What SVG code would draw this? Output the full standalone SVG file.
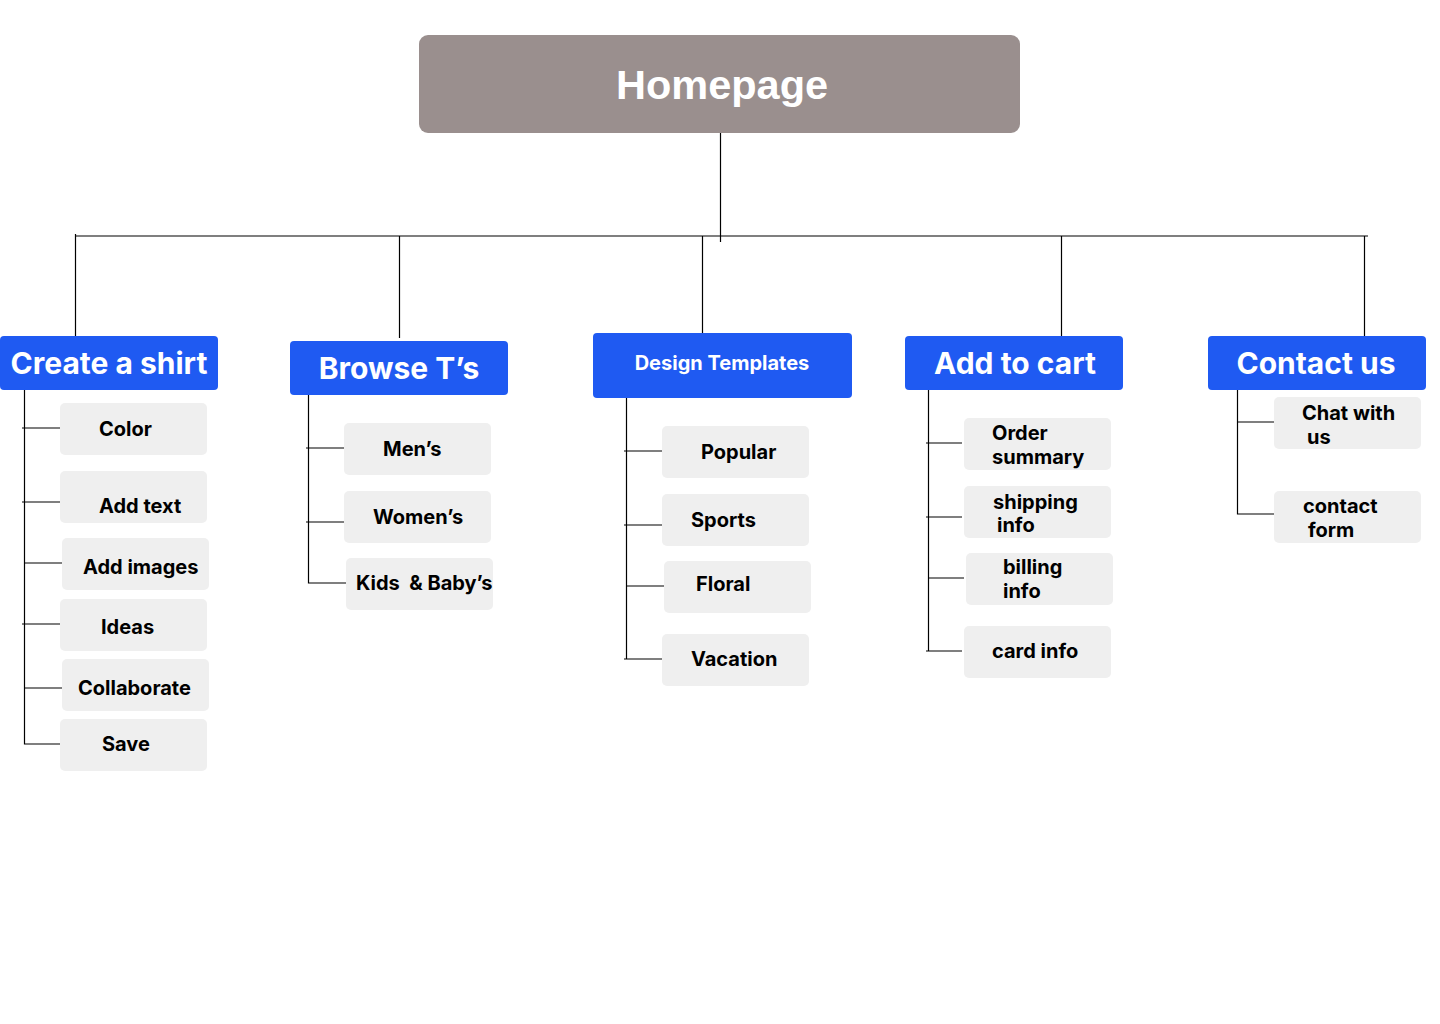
<svg xmlns="http://www.w3.org/2000/svg" width="1440" height="1024" viewBox="0 0 1440 1024">
<style>
.bg{fill:#ffffff}
.root{fill:#9a8f8e}
.cat{fill:#1f5af2}
.item{fill:#efefef}
.rt{font-family:"Liberation Sans",Arial,sans-serif;font-weight:700;font-size:41.5px;fill:#ffffff}
.ct{font-family:Inter,"Liberation Sans",sans-serif;font-weight:700;font-size:30px;fill:#ffffff}
.ct2{font-family:Inter,"Liberation Sans",sans-serif;font-weight:700;font-size:20px;fill:#ffffff}
.it{font-family:Inter,"Liberation Sans",sans-serif;font-weight:700;font-size:20px;fill:#000000}
.ln{stroke:#000000;stroke-width:1.2;fill:none}
</style>
<rect class="bg" x="0" y="0" width="1440" height="1024"/>
<g id="connectors">
<path class="ln" d="M720.5 133V242"/>
<path class="ln" d="M75 236H1368"/>
<path class="ln" d="M75.5 234V336M399.5 236V338M702.5 236V333M1061.5 236V337M1364.5 236V337"/>
<path class="ln" d="M24.5 390V744H60M22 428H60M22 502H60M24 563H62M22 624H60M24 688H62"/>
<path class="ln" d="M308.5 395V583H346M306 448H344M306 522H344"/>
<path class="ln" d="M626.5 398V659H662M624 451H662M624 525H662M626 586H664M624 659H626"/>
<path class="ln" d="M928.5 390V651H962M926 443H962M926 517H962M928 578H964M926 651H928"/>
<path class="ln" d="M1237.5 384V514H1274M1237 422H1274"/>
</g>
<g id="homepage"><rect class="root" x="419" y="35" width="601" height="98" rx="9"/><text class="rt" x="722" y="99" text-anchor="middle">Homepage</text></g>
<g id="create-shirt"><rect class="cat" x="0" y="336" width="218" height="54" rx="4"/><text class="ct" x="109" y="374" text-anchor="middle">Create a shirt</text></g>
<g id="browse"><rect class="cat" x="290" y="341" width="218" height="54" rx="4"/><text class="ct" x="399" y="379" text-anchor="middle">Browse T’s</text></g>
<g id="design-templates"><rect class="cat" x="593" y="333" width="259" height="65" rx="4"/><text class="ct2" x="722" y="370" text-anchor="middle">Design Templates</text></g>
<g id="add-to-cart"><rect class="cat" x="905" y="336" width="218" height="54" rx="4"/><text class="ct" x="1015" y="374" text-anchor="middle">Add to cart</text></g>
<g id="contact-us"><rect class="cat" x="1208" y="336" width="218" height="54" rx="4"/><text class="ct" x="1316" y="374" text-anchor="middle">Contact us</text></g>

<g id="color"><rect class="item" x="60" y="403" width="147" height="52" rx="5"/><text class="it" x="99" y="436">Color</text></g>
<g id="add-text"><rect class="item" x="60" y="471" width="147" height="52" rx="5"/><text class="it" x="99" y="513">Add text</text></g>
<g id="add-images"><rect class="item" x="62" y="538" width="147" height="52" rx="5"/><text class="it" x="83" y="574">Add images</text></g>
<g id="ideas"><rect class="item" x="60" y="599" width="147" height="52" rx="5"/><text class="it" x="101" y="634">Ideas</text></g>
<g id="collaborate"><rect class="item" x="62" y="659" width="147" height="52" rx="5"/><text class="it" x="78" y="695">Collaborate</text></g>
<g id="save"><rect class="item" x="60" y="719" width="147" height="52" rx="5"/><text class="it" x="102" y="751">Save</text></g>

<g id="mens"><rect class="item" x="344" y="423" width="147" height="52" rx="5"/><text class="it" x="383" y="456">Men’s</text></g>
<g id="womens"><rect class="item" x="344" y="491" width="147" height="52" rx="5"/><text class="it" x="373" y="524">Women’s</text></g>
<g id="kids"><rect class="item" x="346" y="558" width="147" height="52" rx="5"/><text class="it" x="356" y="590" xml:space="preserve">Kids  &amp; Baby’s</text></g>

<g id="popular"><rect class="item" x="662" y="426" width="147" height="52" rx="5"/><text class="it" x="701" y="459">Popular</text></g>
<g id="sports"><rect class="item" x="662" y="494" width="147" height="52" rx="5"/><text class="it" x="691" y="527">Sports</text></g>
<g id="floral"><rect class="item" x="664" y="561" width="147" height="52" rx="5"/><text class="it" x="696" y="591">Floral</text></g>
<g id="vacation"><rect class="item" x="662" y="634" width="147" height="52" rx="5"/><text class="it" x="691" y="666">Vacation</text></g>

<g id="order-summary"><rect class="item" x="964" y="418" width="147" height="52" rx="5"/><text class="it" x="992" y="440">Order</text><text class="it" x="992" y="464">summary</text></g>
<g id="shipping-info"><rect class="item" x="964" y="486" width="147" height="52" rx="5"/><text class="it" x="993" y="509">shipping</text><text class="it" x="997" y="532">info</text></g>
<g id="billing-info"><rect class="item" x="966" y="553" width="147" height="52" rx="5"/><text class="it" x="1003" y="574">billing</text><text class="it" x="1003" y="598">info</text></g>
<g id="card-info"><rect class="item" x="964" y="626" width="147" height="52" rx="5"/><text class="it" x="992" y="658">card info</text></g>

<g id="chat"><rect class="item" x="1274" y="397" width="147" height="52" rx="5"/><text class="it" x="1302" y="420">Chat with</text><text class="it" x="1307" y="444">us</text></g>
<g id="contact-form"><rect class="item" x="1274" y="491" width="147" height="52" rx="5"/><text class="it" x="1303" y="513">contact</text><text class="it" x="1308" y="537">form</text></g>
</svg>
